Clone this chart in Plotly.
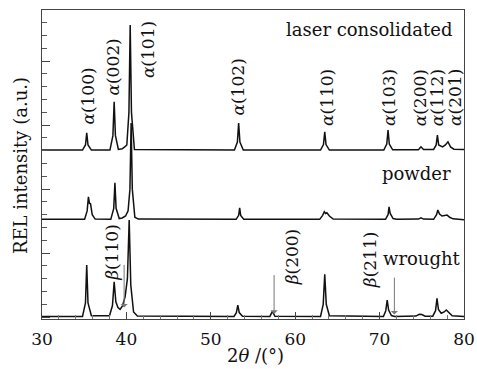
import plotly.graph_objects as go

# ---------------- data (2theta in degrees, intensity in arbitrary units) -------------
laser_x = [30, 34.8, 35.15, 35.3, 35.45, 35.85,
           38.05, 38.4, 38.55, 38.7, 39.05,
           39.5, 39.8, 40.05, 40.3, 40.45, 40.6, 40.95,
           52.8, 53.15, 53.3, 53.45, 53.85,
           63.0, 63.35, 63.5, 63.65, 64.05,
           70.5, 70.85, 71.0, 71.15, 71.55,
           74.6, 74.9, 75.2,
           76.4, 76.7, 76.85, 77.0, 77.45, 77.8, 78.1, 78.4, 78.8, 80]
laser_y = [13.05, 13.05, 13.45, 14.40, 13.45, 13.05,
           13.05, 14.18, 16.83, 14.18, 13.10,
           13.15, 13.30, 13.45, 16.00, 22.82, 16.00, 13.10,
           13.05, 13.68, 15.16, 13.68, 13.05,
           13.05, 13.48, 14.48, 13.48, 13.05,
           13.05, 13.52, 14.62, 13.52, 13.07,
           13.07, 13.31, 13.10,
           13.10, 13.45, 14.22, 13.45, 13.30, 13.45, 13.70, 13.30, 13.12, 13.09]

powder_x = [30, 35.05, 35.35, 35.5, 35.62, 35.75, 35.95, 36.3,
            38.15, 38.5, 38.64, 38.78, 39.15,
            39.5, 39.9, 40.2, 40.42, 40.56, 40.7, 41.0, 41.4,
            53.0, 53.3, 53.42, 53.54, 53.9,
            62.9, 63.25, 63.45, 63.6, 63.75, 64.05, 64.5,
            70.7, 71.0, 71.12, 71.25, 71.6, 72.0,
            74.6, 74.9, 75.2,
            76.4, 76.75, 76.9, 77.1, 77.4, 77.7, 78.0, 78.3, 78.7, 80]
powder_y = [7.64, 7.64, 8.30, 9.40, 8.90, 8.85, 8.00, 7.66,
            7.64, 8.50, 10.49, 8.50, 7.70,
            7.75, 7.90, 8.30, 10.00, 15.16, 10.00, 7.80, 7.66,
            7.64, 7.95, 8.54, 7.95, 7.65,
            7.64, 7.95, 8.23, 8.10, 8.15, 7.90, 7.66,
            7.64, 8.00, 8.62, 8.10, 7.70, 7.65,
            7.66, 7.75, 7.66,
            7.64, 8.00, 8.37, 8.05, 7.90, 7.95, 7.97, 7.80, 7.68, 7.60]

wrought_x = [30, 34.8, 35.15, 35.3, 35.45, 35.85,
             38.0, 38.35, 38.55, 38.75, 39.0, 39.25, 39.55, 39.85, 40.12, 40.33, 40.52, 40.85, 41.3,
             52.75, 53.03, 53.2, 53.37, 53.75,
             57.0, 57.3, 57.6,
             63.0, 63.32, 63.5, 63.68, 64.05,
             70.45, 70.73, 70.9, 71.07, 71.4, 71.8,
             74.3, 74.7, 75.0, 75.4,
             76.3, 76.63, 76.8, 76.97, 77.3, 77.65, 77.9, 78.2, 78.6, 80]
wrought_y = [0.05, 0.05, 1.10, 4.07, 1.10, 0.10,
             0.10, 0.90, 2.76, 1.20, 0.75, 0.60, 0.90, 1.60, 3.00, 7.58, 2.50, 0.40, 0.08,
             0.05, 0.35, 0.94, 0.35, 0.06,
             0.05, 0.45, 0.06,
             0.05, 1.00, 3.34, 1.00, 0.10,
             0.05, 0.50, 1.33, 0.55, 0.12, 0.05,
             0.08, 0.22, 0.20, 0.07,
             0.07, 0.50, 1.47, 0.60, 0.30, 0.40, 0.55, 0.35, 0.10, 0.05]

# peak labels (alpha phase)
alpha_labels = ["(100)", "(002)", "(101)", "(102)", "(110)", "(103)", "(200)", "(112)", "(201)"]
alpha_x = [35.45, 38.4, 42.5, 53.2, 63.7, 71.05, 74.75, 76.75, 78.85]
alpha_y = [14.85, 17.19, 18.52, 15.63, 14.77, 14.77, 14.77, 14.77, 14.77]

# beta phase labels and arrows
beta_labels = ["(110)", "(200)", "(211)"]
beta_x = [38.2, 59.6, 68.95]
beta_y = [2.66, 2.35, 2.12]
beta_arrow_x = [39.73, 57.5, 71.75]
beta_arrow_top = [4.2, 3.4, 3.2]
beta_arrow_tip = [0.75, 0.25, 0.2]

series_names = ["laser consolidated", "powder", "wrought"]
series_label_x = [78.85, 78.7, 79.9]
series_label_y = [22.5, 11.26, 4.6]

x_ticks = [30, 40, 50, 60, 70, 80]
x_title = "2<i>θ</i> /(°)"
y_title = "REL intensity (a.u.)"

# ---------------- figure ----------------
FONT = "DejaVu Serif"
INK = "#111111"
fig = go.Figure()
for xs, ys in [(laser_x, laser_y), (powder_x, powder_y), (wrought_x, wrought_y)]:
    fig.add_trace(go.Scatter(x=xs, y=ys, mode="lines",
                             line=dict(color=INK, width=1.5),
                             showlegend=False, hoverinfo="skip"))

ann = []
for t, x, y in zip(alpha_labels, alpha_x, alpha_y):
    ann.append(dict(x=x, y=y, xref="x", yref="y", text="<i>α</i>" + t, showarrow=False,
                    textangle=-90, xanchor="center", yanchor="bottom",
                    font=dict(family=FONT, size=17, color=INK)))
for t, x, y in zip(beta_labels, beta_x, beta_y):
    ann.append(dict(x=x, y=y, xref="x", yref="y", text="<i>β</i>" + t, showarrow=False,
                    textangle=-90, xanchor="center", yanchor="bottom",
                    font=dict(family=FONT, size=17, color=INK)))
for x, y0, y1 in zip(beta_arrow_x, beta_arrow_top, beta_arrow_tip):
    ann.append(dict(x=x, y=y1, ax=x, ay=y0, xref="x", yref="y", axref="x", ayref="y",
                    text="", showarrow=True, arrowhead=1, arrowsize=1.2, arrowwidth=1,
                    arrowcolor="#777777"))
for t, x, y in zip(series_names, series_label_x, series_label_y):
    ann.append(dict(x=x, y=y, xref="x", yref="y", text=t, showarrow=False,
                    xanchor="right", yanchor="middle",
                    font=dict(family=FONT, size=18, color=INK)))
# axis titles
ann.append(dict(x=0.505, y=-0.117, xref="paper", yref="paper", text=x_title, showarrow=False,
                xanchor="center", yanchor="middle", font=dict(family=FONT, size=18, color=INK)))
ann.append(dict(x=-0.052, y=0.495, xref="paper", yref="paper", text=y_title, showarrow=False,
                textangle=-90, xanchor="center", yanchor="middle",
                font=dict(family=FONT, size=18, color=INK)))

fig.update_layout(
    width=477, height=369,
    margin=dict(l=42, r=13, t=10, b=50, autoexpand=False),
    paper_bgcolor="white", plot_bgcolor="white",
    font=dict(family=FONT, size=16, color=INK),
    annotations=ann,
    xaxis=dict(range=[30, 80], tickvals=x_ticks, ticks="inside", ticklen=7, tickwidth=1,
               tickcolor="#444444", showline=True, linecolor="#444444", linewidth=1,
               mirror=True, showgrid=False, zeroline=False, automargin=False,
               ticklabelstandoff=5,
               tickfont=dict(family=FONT, size=17, color=INK),
               minor=dict(dtick=2, ticks="inside", ticklen=4, tickcolor="#777777", showgrid=False)),
    yaxis=dict(range=[-0.15, 24], tick0=0, dtick=5, ticks="inside", ticklen=8, tickwidth=1,
               tickcolor="#444444", showticklabels=False, showline=True, automargin=False,
               linecolor="#444444", linewidth=1, mirror=True, showgrid=False, zeroline=False,
               minor=dict(dtick=1, ticks="inside", ticklen=5, tickcolor="#555555", showgrid=False)),
)
fig.write_html("out.html")
